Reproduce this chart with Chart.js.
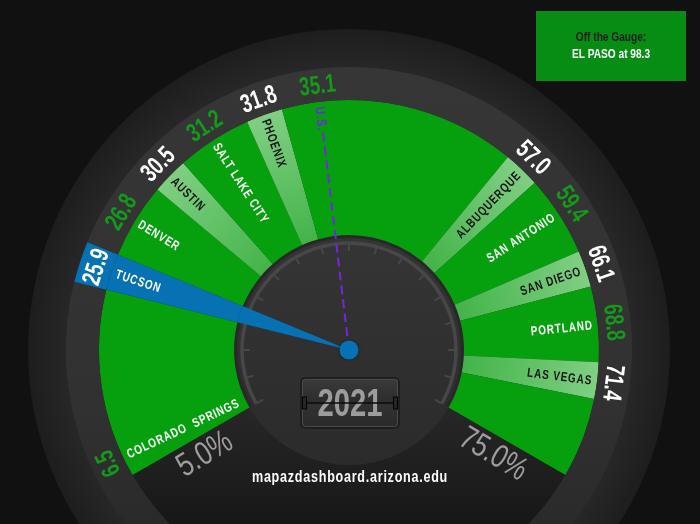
<!DOCTYPE html>
<html><head><meta charset="utf-8">
<script src="https://cdn.jsdelivr.net/npm/chart.js@4.4.1/dist/chart.umd.min.js"></script>
<style>html,body{margin:0;padding:0;background:#111;overflow:hidden}canvas{display:block}</style>
</head><body>
<canvas id="c" width="700" height="524"></canvas>
<script>
// ---------------- data ----------------
const cities = ['Colorado Springs','Tucson','Denver','Austin','Salt Lake City','Phoenix','U.S.','Albuquerque','San Antonio','San Diego','Portland','Las Vegas'];
const rates  = [6.5, 25.9, 26.8, 30.5, 31.2, 31.8, 35.1, 57.0, 59.4, 66.1, 68.8, 71.4];
const highlightCity = 'Tucson';
const benchmarkName = 'U.S.';
const gaugeEndValues = [5.0, 75.0];
const yearLabel = '2021';
const offGaugeCity = 'EL PASO';
const offGaugeValue = 98.3;
const sourceText = 'mapazdashboard.arizona.edu';

// ---------------- gauge layout ----------------
const SCALE_MIN = 5, SCALE_MAX = 80, A0 = -120, A1 = 120;
const LABEL_GAP = 13;        // minimum angular gap between labels (deg)
const W_RING = 33, W_SECTOR = 135, W_FACE = 115; // ring thicknesses (px)
const R_OUT = W_RING + W_SECTOR + W_FACE;
const BAND = 8.5;
const PURPLE = '#7028e0';
const FONT = "'Liberation Sans', Arial, sans-serif";

const baseAngle = v => A0 + (v - SCALE_MIN) / (SCALE_MAX - SCALE_MIN) * (A1 - A0);
// collision avoidance: equal spacing inside merged blocks, centroid preserved
function spread(p, G) {
  const blocks = [];
  p.forEach((v, i) => {
    blocks.push({ i0: i, n: 1, s: v });
    while (blocks.length > 1) {
      const b = blocks[blocks.length - 1], a = blocks[blocks.length - 2];
      const aStart = a.s / a.n, bStart = b.s / b.n;
      if (aStart + a.n * G > bStart) {
        blocks.pop(); blocks.pop();
        blocks.push({ i0: a.i0, n: a.n + b.n, s: a.s + b.s - b.n * a.n * G });
      } else break;
    }
  });
  const out = [];
  blocks.forEach(b => { const st = b.s / b.n; for (let k = 0; k < b.n; k++) out.push(st + k * G); });
  return out;
}
const angles = spread(rates.map(baseAngle), LABEL_GAP);

const marksAll = [], marksBlue = [];
cities.forEach((c, i) => {
  const a = angles[i];
  if (c === highlightCity) { const m = { a: a - BAND / 2, b: a + BAND / 2, t: 'blue' }; marksAll.push(m); marksBlue.push(m); }
  else if (i % 2 === 1 && c !== benchmarkName) marksAll.push({ a: a - BAND / 2, b: a + BAND / 2, t: 'band' });
});
function ring(marks, fill, fillEnd) {
  const data = [], tok = []; let cur = A0;
  for (const m of marks) {
    if (m.a > cur) { data.push(m.a - cur); tok.push(fill); }
    data.push(m.b - m.a); tok.push(m.t); cur = m.b;
  }
  if (fillEnd > cur) { data.push(fillEnd - cur); tok.push(fill); cur = fillEnd; }
  if (A0 + 360 > cur) { data.push(A0 + 360 - cur); tok.push('none'); }
  return { data, tok };
}
const ring0 = ring(marksBlue, 'ring', A0 + 360);
const ring1 = ring(marksAll, 'green', A1);
const ring2 = ring(marksBlue, 'none', A0);

function center(chart) {
  const ca = chart.chartArea;
  if (!ca) return [349, 350];
  return [(ca.left + ca.right) / 2, (ca.top + ca.bottom) / 2];
}
function tokColor(chart, t) {
  const [cx, cy] = center(chart); const g = chart.ctx;
  if (t === 'green') return '#06a00f';
  if (t === 'blue') return '#0671b3';
  if (t === 'none') return 'rgba(0,0,0,0)';
  if (t === 'band') {
    const gr = g.createRadialGradient(cx, cy, W_FACE, cx, cy, W_FACE + W_SECTOR);
    gr.addColorStop(0, '#43b449'); gr.addColorStop(1, '#80cf83'); return gr;
  }
  if (t === 'ring') {
    const gr = g.createLinearGradient(0, cy - R_OUT, 0, cy + R_OUT);
    gr.addColorStop(0, '#363636'); gr.addColorStop(0.6, '#313131'); gr.addColorStop(1, '#242424'); return gr;
  }
  return 'rgba(0,0,0,0)';
}
const ds = (r, w) => ({ data: r.data, weight: w, borderWidth: 0, hoverOffset: 0,
  backgroundColor: ctx => tokColor(ctx.chart, r.tok[ctx.dataIndex]) });

function polar(cx, cy, r, deg) { const a = deg * Math.PI / 180; return [cx + r * Math.sin(a), cy - r * Math.cos(a)]; }
const rad = d => d * Math.PI / 180;
// condensed text helper (horizontal squeeze emulates a narrow face)
function txt(g, s, x, y, o) {
  g.save(); g.translate(x, y); if (o.rot) g.rotate(o.rot);
  g.scale(o.sx || 1, 1);
  g.font = (o.weight || 'bold') + ' ' + o.size + 'px ' + FONT;
  g.letterSpacing = (o.ls || 0) + 'px';
  g.textAlign = o.align || 'center'; g.textBaseline = o.base || 'middle';
  g.fillStyle = o.color;
  g.fillText(s, 0, o.dy || 0);
  g.restore();
}

const gaugePlugin = {
  id: 'gauge',
  beforeDatasetsDraw(chart) {
    const g = chart.ctx; const [cx, cy] = center(chart);
    g.save();
    let gr = g.createRadialGradient(cx, cy, R_OUT, cx, cy, 322);
    gr.addColorStop(0, '#272727'); gr.addColorStop(1, '#1d1d1d');
    g.fillStyle = gr; g.beginPath(); g.arc(cx, cy, 321, 0, Math.PI * 2); g.fill();
    gr = g.createLinearGradient(0, cy, 0, cy + 175);
    gr.addColorStop(0, '#2f2f2f'); gr.addColorStop(1, '#171717');
    g.fillStyle = gr; g.beginPath(); g.arc(cx, cy, W_FACE + W_SECTOR, 0, Math.PI * 2); g.fill();
    gr = g.createLinearGradient(0, cy - W_FACE, 0, cy + W_FACE);
    gr.addColorStop(0, '#353535'); gr.addColorStop(1, '#2b2b2b');
    g.fillStyle = gr; g.beginPath(); g.arc(cx, cy, W_FACE, 0, Math.PI * 2); g.fill();
    g.strokeStyle = '#282828'; g.lineWidth = 3;
    g.beginPath(); g.arc(cx, cy, W_FACE - 1.5, rad(A0 - 90), rad(A1 - 90)); g.stroke();
    g.strokeStyle = '#474747'; g.lineWidth = 3.5;
    g.beginPath(); g.arc(cx, cy, 107, rad(A0 - 90), rad(A1 - 90)); g.stroke();
    g.lineWidth = 2;
    for (let a = A0; a <= A1 + 0.01; a += 15) {
      const [x1, y1] = polar(cx, cy, 107, a), [x2, y2] = polar(cx, cy, 99, a);
      g.beginPath(); g.moveTo(x1, y1); g.lineTo(x2, y2); g.stroke();
    }
    g.restore();
  },
  afterDatasetsDraw(chart) {
    const g = chart.ctx; const [cx, cy] = center(chart);
    g.save();
    const ba = angles[cities.indexOf(benchmarkName)];
    g.strokeStyle = PURPLE; g.lineWidth = 2; g.setLineDash([9, 5]);
    const [ux, uy] = polar(cx, cy, 219, ba);
    g.beginPath(); g.moveTo(ux, uy); g.lineTo(cx, cy); g.stroke();
    g.setLineDash([]);
    const rLab = W_FACE + W_SECTOR - 5;
    cities.forEach((c, i) => {
      const a = angles[i];
      const [x, y] = polar(cx, cy, rLab, a);
      const isBand = i % 2 === 1 && c !== highlightCity && c !== benchmarkName;
      const color = c === benchmarkName ? PURPLE : (isBand ? '#111' : '#fff');
      const label = c.toUpperCase().replace(' SPRINGS', '  SPRINGS');
      txt(g, label, x, y, { size: c === benchmarkName ? 14 : 13, sx: 0.76, ls: 1.2, color, align: a < 0 ? 'left' : 'right',
        rot: rad(a < 0 ? a + 90 : a - 90), dy: 1 });
      const [vx, vy] = polar(cx, cy, W_FACE + W_SECTOR + W_RING / 2, a);
      txt(g, rates[i].toFixed(1), vx, vy, { size: 26, sx: 0.72, color: i % 2 === 1 ? '#ffffff' : '#14991a', rot: rad(a), dy: 1 });
    });
    g.fillStyle = '#0671b3'; g.shadowColor = 'rgba(0,0,0,0.5)'; g.shadowBlur = 3;
    g.beginPath(); g.arc(cx, cy, 9.5, 0, Math.PI * 2); g.fill();
    g.shadowBlur = 0; g.shadowColor = 'transparent';
    // year flip clock
    const bx = cx - 48, by = cy + 28, bw = 98, bh = 50;
    let gr = g.createLinearGradient(0, by, 0, by + bh);
    gr.addColorStop(0, '#3a3a3a'); gr.addColorStop(0.5, '#2c2c2c'); gr.addColorStop(0.52, '#313131'); gr.addColorStop(1, '#2a2a2a');
    g.fillStyle = gr; g.strokeStyle = '#1a1a1a'; g.lineWidth = 1.5;
    g.beginPath(); g.roundRect(bx, by, bw, bh, 4); g.fill(); g.stroke();
    g.strokeStyle = '#4a4a4a'; g.lineWidth = 1;
    g.beginPath(); g.roundRect(bx + 1.5, by + 1.5, bw - 3, bh - 3, 3); g.stroke();
    gr = g.createLinearGradient(0, by + 8, 0, by + bh - 8);
    gr.addColorStop(0, '#9c9c9c'); gr.addColorStop(1, '#7a7a7a');
    txt(g, yearLabel, bx + bw / 2, by + bh / 2 + 2, { size: 39, sx: 0.75, color: gr });
    g.strokeStyle = '#0c0c0c'; g.lineWidth = 1.3;
    g.beginPath(); g.moveTo(bx + 4, by + bh / 2); g.lineTo(bx + bw - 4, by + bh / 2); g.stroke();
    g.fillStyle = '#262626'; g.strokeStyle = '#000'; g.lineWidth = 1;
    [bx + 1.5, bx + bw - 5.5].forEach(tx => { g.fillRect(tx, by + bh / 2 - 6, 4, 12); g.strokeRect(tx, by + bh / 2 - 6, 4, 12); });
    // gauge end labels
    gaugeEndValues.forEach((v, k) => {
      const a = (k === 0 ? A0 - 6 : A1 + 6);
      const [x, y] = polar(cx, cy, 178, a);
      txt(g, v.toFixed(1) + '%', x, y, { size: 33, sx: 0.78, weight: 'normal', color: '#9d9d9d', rot: rad(k === 0 ? -31 : 31) });
    });
    // source
    txt(g, sourceText, cx + 1, cy + 132, { size: 17, sx: 0.74, ls: 1, color: '#ffffff', base: 'alphabetic' });
    // off the gauge box
    g.fillStyle = '#078c14'; g.fillRect(536, 11, 150, 70);
    txt(g, 'Off the Gauge:', 611, 37, { size: 13, sx: 0.78, color: '#1e1e1e' });
    txt(g, offGaugeCity + ' at ' + offGaugeValue.toFixed(1), 611, 54, { size: 13, sx: 0.78, color: '#fff' });
    g.restore();
  }
};

new Chart(document.getElementById('c'), {
  type: 'doughnut',
  data: { labels: ring1.data.map((_, i) => i), datasets: [ds(ring0, W_RING), ds(ring1, W_SECTOR), ds(ring2, W_FACE)] },
  options: {
    responsive: false, animation: false, events: [],
    rotation: A0, circumference: 360, cutout: 0, radius: R_OUT,
    layout: { padding: { left: 0, right: 2, top: 176, bottom: 0 } },
    plugins: { legend: { display: false }, tooltip: { enabled: false } }
  },
  plugins: [gaugePlugin]
});
</script>
</body></html>
